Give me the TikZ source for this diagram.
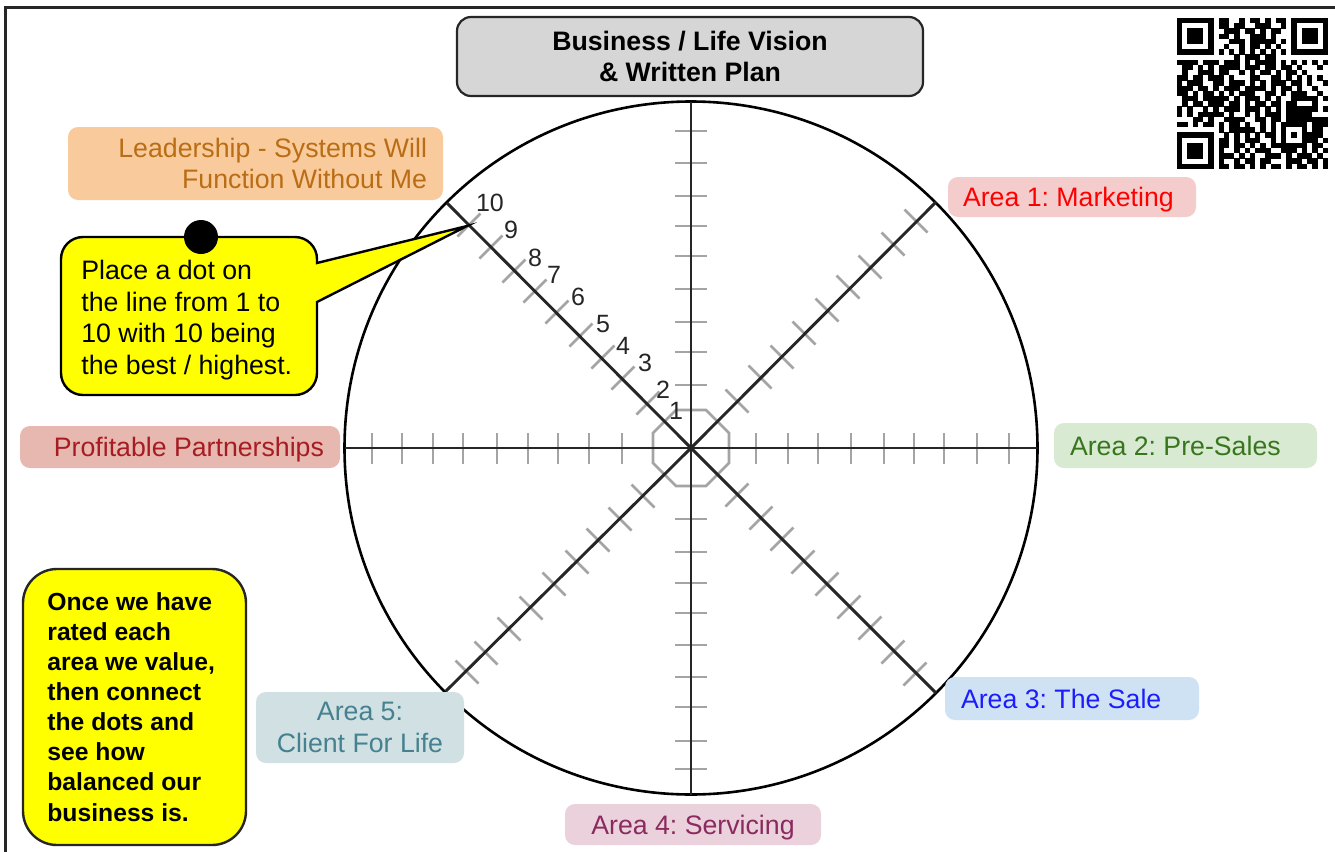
\documentclass[tikz,border=0pt]{standalone}
\usepackage{fontspec}
\setmainfont{Liberation Sans}
\definecolor{axisc}{HTML}{262626}
\definecolor{tickc}{HTML}{A4A4A4}
\definecolor{titlebg}{HTML}{D6D6D6}
\definecolor{orbg}{HTML}{F9CB9C}\definecolor{orfg}{HTML}{B96D14}
\definecolor{redbg}{HTML}{F4CCCC}\definecolor{redfg}{HTML}{FF0000}
\definecolor{grbg}{HTML}{D9EAD3}\definecolor{grfg}{HTML}{38761D}
\definecolor{blbg}{HTML}{CFE2F3}\definecolor{blfg}{HTML}{1C1CFF}
\definecolor{pkbg}{HTML}{EAD1DC}\definecolor{pkfg}{HTML}{8A2A5E}
\definecolor{tlbg}{HTML}{D0E0E3}\definecolor{tlfg}{HTML}{45818E}
\definecolor{brbg}{HTML}{E6B8AF}\definecolor{brfg}{HTML}{A61C22}
\definecolor{yel}{HTML}{FFFF00}
\tikzset{
  labelbox/.style={rectangle,rounded corners=5pt,inner sep=0pt,align=flush center,font=\frenchspacing\fontsize{13.35}{15.75}\selectfont},
  onelabel/.style={labelbox,text height=9.8pt,text depth=0pt},
  axisline/.style={draw=axisc,line width=1.45pt},
  tickline/.style={draw=tickc,line width=1.3pt},
  numlabel/.style={inner sep=0pt,text=black!85,font=\fontsize{12.5}{14}\selectfont}
}
\newcount\qx \newcount\qy
\def\qrrow#1{\qx=0 \qrloop#1\relax \advance\qy by 1 }
\def\qrloop#1{\ifx#1\relax\else\if#1x\fill[black] ({1177+5.2*\the\qx},{18+5.2*\the\qy}) rectangle +(5.3,5.3);\fi\advance\qx by 1 \expandafter\qrloop\fi}
\begin{document}
\begin{tikzpicture}[x=0.5pt,y=-0.5pt]
\useasboundingbox (0,0) rectangle (1335,852);
\fill[white] (0,0) rectangle (1335,852);
\draw[black!85,line width=1.5pt] (5,852) -- (5,7) -- (1335,7);
% wheel
\coordinate (hub) at (691,448);
\coordinate (eN) at (691,102);
\coordinate (eS) at (691,795);
\coordinate (eE) at (1037,448);
\coordinate (eW) at (345,448);
\coordinate (eNE) at (936,202);
\coordinate (eSE) at (936,693);
\coordinate (eSW) at (446,691);
\coordinate (eNW) at (447,203);
\draw[black,line width=1.3pt] (hub) circle (346.5);
% ticks
\draw[tickline] (653,433) -- (676,410) -- (706,410) -- (729,433) -- (729,463) -- (706,486) -- (676,486) -- (653,463) -- cycle;
\foreach \t in {372,402,433,463,497,528,558,589,622,756,788,818,851,884,914,944,977,1009}
  \draw[tickline] (\t,433) -- (\t,464);
\foreach \t in {131,163,196,226,256,289,322,352,385,519,552,583,613,645,677,707,741,769}
  \draw[tickline] (675,\t) -- (707,\t);
\foreach \a/\b in {737/401,760/377,782/357,804/333,827/310,848/287,870/267,893/244,916/221}
  \draw[tickline] (\a-11.5,\b-11.5) -- (\a+11.5,\b+11.5);
\foreach \a/\b in {643/496,620/519,598/540,577/562,554/584,531/608,509/629,486/653,467/672}
  \draw[tickline] (\a-11.5,\b-11.5) -- (\a+11.5,\b+11.5);
\foreach \a/\b in {737/495,761/518,782/539,803/562,827/584,849/607,870/628,893/652,915/674}
  \draw[tickline] (\a-11.5,\b+11.5) -- (\a+11.5,\b-11.5);
\foreach \a/\b in {469/225,491/247,514/271,535/291,557/312,581/335,603/357,623/378,648/403}
  \draw[tickline] (\a-11.5,\b+11.5) -- (\a+11.5,\b-11.5);
% arms
\draw[axisline] (eN) -- (hub);
\draw[axisline] (eS) -- (hub);
\draw[axisline] (eE) -- (hub);
\draw[axisline] (eW) -- (hub);
\draw[axisline] (eNE) -- (hub);
\draw[axisline] (eSE) -- (hub);
\draw[axisline] (eSW) -- (hub);
\draw[axisline] (eNW) -- (hub);
% scale numbers
\node[numlabel] (n10) at (490,203) {10};
\node[numlabel] (n9) at (511,230) {9};
\node[numlabel] (n8) at (535,258) {8};
\node[numlabel] (n7) at (554,275) {7};
\node[numlabel] (n6) at (578,297) {6};
\node[numlabel] (n5) at (603,324) {5};
\node[numlabel] (n4) at (623,346) {4};
\node[numlabel] (n3) at (645,363) {3};
\node[numlabel] (n2) at (663,390) {2};
\node[numlabel] (n1) at (676,411) {1};
% title
\node[rectangle,rounded corners=7pt,draw=black!85,line width=1.1pt,fill=titlebg,minimum width=233pt,minimum height=39.5pt,inner sep=0pt,align=flush center,font=\bfseries\fontsize{13.35}{15.75}\selectfont] (title) at (690,56.5) {Business / Life Vision\\\& Written Plan};
% labels
\node[labelbox,fill=orbg,text=orfg,minimum width=187.5pt,minimum height=36.5pt,align=flush right,text width=171.5pt] (lead) at (255.5,163.5) {Leadership - Systems Will\\Function Without Me};
\node[onelabel,fill=redbg,text=redfg,minimum width=124pt,minimum height=20pt,text width=109pt,align=flush left] (a1) at (1072,197) {Area 1: Marketing};
\node[onelabel,fill=grbg,text=grfg,minimum width=131.5pt,minimum height=22.5pt,text width=115.5pt,align=flush left] (a2) at (1185.5,445.5) {Area 2: Pre-Sales};
\node[onelabel,fill=blbg,text=blfg,minimum width=127pt,minimum height=21.5pt,text width=111pt,align=flush left] (a3) at (1072,698.5) {Area 3: The Sale};
\node[onelabel,fill=pkbg,text=pkfg,minimum width=128pt,minimum height=20.5pt] (a4) at (693,824.5) {Area 4: Servicing};
\node[labelbox,fill=tlbg,text=tlfg,minimum width=104pt,minimum height=35.5pt] (a5) at (360,727.5) {Area 5:\\Client For Life};
\node[onelabel,fill=brbg,text=brfg,minimum width=160pt,minimum height=21pt,text width=144pt,align=flush right] (a6) at (180,447) {Profitable Partnerships};
% callout
\draw[black,line width=1.2pt,fill=yel,line join=miter] (61,300) [rounded corners=11pt] -- (61,237) -- (317,237) [sharp corners] -- (317,263) -- (467,226) -- (317,302) [rounded corners=11pt] -- (317,395) -- (61,395) -- cycle;
\node[inner sep=0pt,align=flush left,anchor=north west,text=black,font=\fontsize{13.35}{15.75}\selectfont] (calltext) at (81,260) {Place a dot on\\the line from 1 to\\10 with 10 being\\the best / highest.};
\node[circle,fill=black,minimum size=17pt,inner sep=0pt] (dot) at (201,237) {};
% note
\node[rectangle,rounded corners=17pt,draw=black!85,line width=1.2pt,fill=yel,minimum width=111.5pt,minimum height=138pt,inner sep=0pt] (notebox) at (134.5,707) {};
\node[inner sep=0pt,align=flush left,anchor=north west,text=black,font=\bfseries\fontsize{12.35}{15.05}\selectfont] (notetext) at (47,592) {Once we have\\rated each\\area we value,\\then connect\\the dots and\\see how\\balanced our\\business is.};
% QR
\qy=0
\qrrow{xxxxxxx.xx..x.xx.x.xx.xxxxxxx}
\qrrow{x.....x.xx.xx..xxx..x.x.....x}
\qrrow{x.xxx.x..xxx.xx.x.xx..x.xxx.x}
\qrrow{x.xxx.x.xx.x..xxx.x...x.xxx.x}
\qrrow{x.xxx.x...xxx.xxxxx.x.x.xxx.x}
\qrrow{x.....x..x..x.xx.x.x..x.....x}
\qrrow{xxxxxxx.x.x.x.x.x.x.x.xxxxxxx}
\qrrow{...........x.xxx.xx..........}
\qrrow{xxxx.xxx.xxx.x.xxxx.x.x.x.x.x}
\qrrow{.xx.x.x.xxxx.xxx.xx.xx.x...x.}
\qrrow{.x..xxx.xx..x.x.xx.x.xx.x....}
\qrrow{xx.xx.xxx.x...xx..xx.x.x.x.x.}
\qrrow{x.xxx..xx.xxx.x.x.xxx.xx.x..x}
\qrrow{xxx.xx.x.xxx.xxxx.x.xx.x..x..}
\qrrow{xx.x.xx.x.x.xxx..xx.x.xxx..x.}
\qrrow{.xxx.xxxxx.x.xxx.x.x..xxxxx.x}
\qrrow{.x.xx.xxx.xx.x.xx.xx.xx...x..}
\qrrow{x.x..x.x.xxx.xxx.x.x.xxxxxx.x}
\qrrow{x.x.xxxxx.x..x.x.xxx.xxxxx...}
\qrrow{...xx.x..xxxx..xx.xx.xxxxxxxx}
\qrrow{xx.x.xx.x.xx.x..x.x.xxxxx.xxx}
\qrrow{........x.xxxxx.x.x.x...x.xx.}
\qrrow{xxxxxxx..x.x.x.x.xx.x.x.xxxx.}
\qrrow{x.....x.xx.x.xxx..x.x...xxx.x}
\qrrow{x.xxx.x.xx.xx.x.x.xxxxxxx.xx.}
\qrrow{x.xxx.x.x..x.x.xxx..xxx.x.x.x}
\qrrow{x.xxx.x.xxx.x.x..xxx.x.xxx.x.}
\qrrow{x.....x.x..x.xx.xx...xxx.xx.x}
\qrrow{xxxxxxx.xx.xx.x.x.xx.x.xx.x.x}
\end{tikzpicture}
\end{document}
